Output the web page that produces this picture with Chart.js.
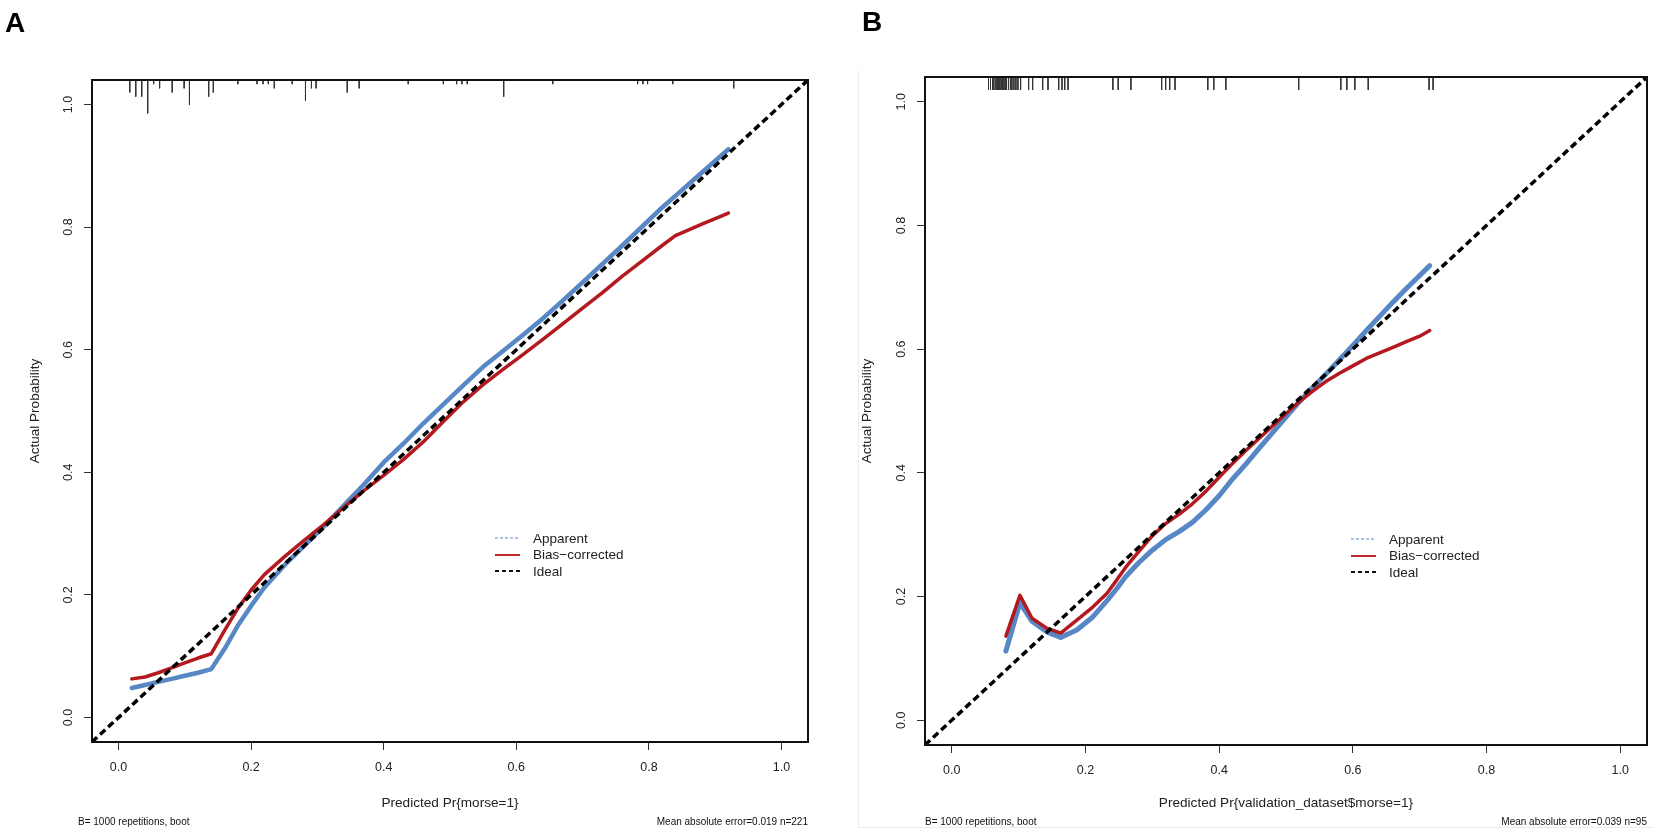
<!DOCTYPE html>
<html>
<head>
<meta charset="utf-8">
<script src="https://cdn.jsdelivr.net/npm/chart.js@4.4.1/dist/chart.umd.min.js"></script>
<style>
html,body{margin:0;padding:0;background:#fff;width:1654px;height:833px;overflow:hidden;font-family:"Liberation Sans",Arial,Helvetica,sans-serif;}
.panel{position:absolute;top:0;height:833px;width:827px;}
#pA{left:0;}
#pB{left:827px;}
.letter{position:absolute;font-weight:bold;font-size:28px;line-height:28px;color:#000;}
.foot{position:absolute;font-size:10px;line-height:12px;color:#111;white-space:nowrap;}
.legend{position:absolute;font-size:13.5px;color:#222;}
.legend .row{display:flex;align-items:center;height:16.5px;white-space:nowrap;}
.legend svg{margin-right:13px;}
.frameB{position:absolute;left:858px;top:70px;width:796px;height:757px;border-left:1px solid #ececec;border-bottom:1px solid #ececec;}
</style>
</head>
<body>
<div class="frameB"></div>
<div class="panel" id="pA"><canvas id="cA"></canvas></div>
<div class="panel" id="pB"><canvas id="cB"></canvas></div>

<div class="letter" style="left:5px;top:9px;">A</div>
<div class="letter" style="left:862px;top:8px;">B</div>

<div class="foot" style="left:78px;top:816px;">B= 1000 repetitions, boot</div>
<div class="foot" style="right:846px;top:816px;">Mean absolute error=0.019 n=221</div>
<div class="foot" style="left:925px;top:816px;">B= 1000 repetitions, boot</div>
<div class="foot" style="right:7px;top:816px;">Mean absolute error=0.039 n=95</div>

<div class="legend" id="legA" style="left:495px;top:530px;"></div>
<div class="legend" id="legB" style="left:1351px;top:531px;"></div>

<script>
// ---------- data ----------
const axisRange = [-0.04, 1.04];
const tickValues = [0, 0.2, 0.4, 0.6, 0.8, 1.0];
const legendLabels = ['Apparent', 'Bias\u2212corrected', 'Ideal'];

// Panel A
const predA = [0.02,0.04,0.06,0.08,0.10,0.12,0.14,0.16,0.18,0.20,0.22,0.25,0.28,0.31,0.34,0.37,0.40,0.43,0.46,0.49,0.52,0.55,0.58,0.61,0.64,0.67,0.70,0.73,0.76,0.79,0.82,0.84,0.88,0.92];
const apparentA = [0.048,0.053,0.058,0.063,0.068,0.073,0.079,0.112,0.150,0.182,0.212,0.248,0.280,0.312,0.346,0.380,0.416,0.447,0.480,0.511,0.542,0.572,0.598,0.624,0.651,0.680,0.710,0.740,0.770,0.801,0.832,0.851,0.889,0.927];
const biasA = [0.063,0.066,0.073,0.081,0.089,0.097,0.104,0.142,0.178,0.208,0.233,0.262,0.289,0.315,0.343,0.370,0.395,0.421,0.450,0.483,0.515,0.543,0.568,0.592,0.617,0.642,0.668,0.693,0.720,0.745,0.770,0.786,0.805,0.823];
const rugA_x = [0.017,0.026,0.035,0.044,0.053,0.062,0.081,0.099,0.107,0.136,0.143,0.180,0.209,0.218,0.226,0.235,0.262,0.282,0.291,0.298,0.345,0.363,0.437,0.490,0.510,0.518,0.526,0.581,0.655,0.783,0.791,0.798,0.836,0.928];
const rugA_freq = [3,4,4,8,1,2,3,2,6,4,3,1,1,1,1,2,1,5,2,2,3,2,1,1,1,1,1,4,1,1,1,1,1,2];

// Panel B
const predB = [0.081,0.102,0.120,0.142,0.163,0.187,0.211,0.232,0.247,0.26,0.28,0.30,0.32,0.34,0.36,0.38,0.40,0.42,0.44,0.46,0.48,0.50,0.52,0.54,0.56,0.58,0.60,0.62,0.64,0.66,0.68,0.70,0.715];
const apparentB = [0.112,0.190,0.160,0.143,0.134,0.146,0.167,0.193,0.213,0.232,0.255,0.275,0.292,0.305,0.320,0.340,0.363,0.390,0.414,0.440,0.465,0.490,0.515,0.538,0.560,0.583,0.606,0.630,0.653,0.676,0.698,0.719,0.735];
const biasB = [0.136,0.202,0.165,0.149,0.141,0.162,0.183,0.205,0.227,0.247,0.273,0.298,0.318,0.333,0.350,0.370,0.393,0.415,0.436,0.456,0.476,0.496,0.515,0.532,0.548,0.561,0.573,0.585,0.594,0.603,0.612,0.621,0.630];
const rugB_x = [0.055,0.058,0.061,0.063,0.066,0.068,0.070,0.072,0.074,0.076,0.078,0.080,0.082,0.085,0.088,0.090,0.093,0.096,0.099,0.103,0.115,0.121,0.136,0.144,0.160,0.165,0.169,0.174,0.241,0.249,0.268,0.314,0.320,0.326,0.334,0.383,0.392,0.410,0.519,0.582,0.591,0.603,0.623,0.714,0.720];
const rugB_freq = rugB_x.map(() => 1);

const titleXA = 'Predicted Pr{morse=1}';
const titleXB = 'Predicted Pr{validation_dataset$morse=1}';
const titleY = 'Actual Probability';

// ---------- styling ----------
const BLUE = '#5787c4';
const RED = '#b3191e';
const FONT = '"Liberation Sans", Arial, Helvetica, sans-serif';

Chart.defaults.font.family = FONT;
Chart.defaults.color = '#222';

function legendHTML() {
  const samples = [
    '<line x1="0" y1="4" x2="25" y2="4" stroke="#8fb0da" stroke-width="1.5" stroke-dasharray="3 2"/>',
    '<line x1="0" y1="4" x2="25" y2="4" stroke="#c0282e" stroke-width="2"/>',
    '<line x1="0" y1="4" x2="25" y2="4" stroke="#111" stroke-width="2" stroke-dasharray="4 3"/>'
  ];
  return legendLabels.map((t, i) =>
    '<div class="row"><svg width="25" height="8">' + samples[i] + '</svg><span>' + t + '</span></div>').join('');
}
document.getElementById('legA').innerHTML = legendHTML();
document.getElementById('legB').innerHTML = legendHTML();

const boxPlugin = {
  id: 'rbox',
  afterDraw(chart) {
    const {ctx, chartArea: a} = chart;
    ctx.save();
    ctx.strokeStyle = '#111';
    ctx.lineWidth = 2;
    ctx.strokeRect(a.left, a.top, a.right - a.left, a.bottom - a.top);
    ctx.restore();
  }
};

function rugPoints(xs, freq, unit) {
  const top = axisRange[1];
  const pts = [];
  xs.forEach((x, i) => {
    pts.push({x: x, y: top});
    pts.push({x: x, y: top - freq[i] * unit});
    pts.push({x: x, y: null});
  });
  return pts;
}

function pairs(xs, ys) { return xs.map((x, i) => ({x: x, y: ys[i]})); }

function makeChart(id, geo, d) {
  const ctx = document.getElementById(id);
  return new Chart(ctx, {
    type: 'scatter',
    data: {
      datasets: [
        { label: 'Ideal', data: axisRange.map(v => ({x: v, y: v})), showLine: true,
          borderColor: '#000', borderWidth: 3.5, borderDash: [7, 4], pointRadius: 0, borderCapStyle: 'butt' },
        { label: 'Bias-corrected', data: pairs(d.pred, d.bias), showLine: true,
          borderColor: RED, borderWidth: 3.5, pointRadius: 0, borderCapStyle: 'round', borderJoinStyle: 'round' },
        { label: 'Apparent', data: pairs(d.pred, d.app), showLine: true,
          borderColor: BLUE, borderWidth: d.blueW, pointRadius: 0, borderCapStyle: 'round', borderJoinStyle: 'round' },
        { label: 'rug', data: rugPoints(d.rugX, d.rugF, d.rugUnit), showLine: true, spanGaps: false,
          borderColor: '#333', borderWidth: 1, pointRadius: 0 }
      ]
    },
    options: {
      responsive: true,
      maintainAspectRatio: false,
      animation: false,
      devicePixelRatio: 1,
      layout: { padding: { left: 0, top: geo.top, right: geo.right, bottom: 0 } },
      plugins: { legend: { display: false }, tooltip: { enabled: false } },
      scales: {
        x: {
          type: 'linear', min: axisRange[0], max: axisRange[1],
          afterBuildTicks: s => { s.ticks = tickValues.map(v => ({value: v})); },
          afterFit: s => { s.height = geo.xh; },
          border: { display: false },
          grid: { display: true, drawOnChartArea: false, drawTicks: true, tickLength: 8, tickColor: '#333', tickWidth: 1 },
          ticks: { padding: 10, minRotation: 0, maxRotation: 0, color: '#222', font: { size: 12.5 },
                   callback: v => Number(v).toFixed(1) },
          title: { display: true, text: d.titleX, color: '#222', font: { size: 13.6 }, padding: { top: 0, bottom: 22 } }
        },
        y: {
          type: 'linear', min: axisRange[0], max: axisRange[1],
          afterBuildTicks: s => { s.ticks = tickValues.map(v => ({value: v})); },
          afterFit: s => { s.width = geo.yw; },
          border: { display: false },
          grid: { display: true, drawOnChartArea: false, drawTicks: true, tickLength: 8, tickColor: '#333', tickWidth: 1 },
          ticks: { padding: 7, minRotation: 90, maxRotation: 90, crossAlign: 'center', color: '#222', font: { size: 12.5 },
                   callback: v => Number(v).toFixed(1) },
          title: { display: true, text: titleY, color: '#222', font: { size: 13.5 }, padding: { top: geo.ytp, bottom: 0 } }
        }
      }
    },
    plugins: [boxPlugin]
  });
}

makeChart('cA', { top: 80, right: 19, xh: 91, yw: 92, ytp: 27 },
  { pred: predA, app: apparentA, bias: biasA, rugX: rugA_x, rugF: rugA_freq, rugUnit: 0.0068,
    titleX: titleXA, blueW: 4.5 });
makeChart('cB', { top: 77, right: 7, xh: 88, yw: 98, ytp: 32 },
  { pred: predB, app: apparentB, bias: biasB, rugX: rugB_x, rugF: rugB_freq, rugUnit: 0.021,
    titleX: titleXB, blueW: 5 });
</script>
</body>
</html>
